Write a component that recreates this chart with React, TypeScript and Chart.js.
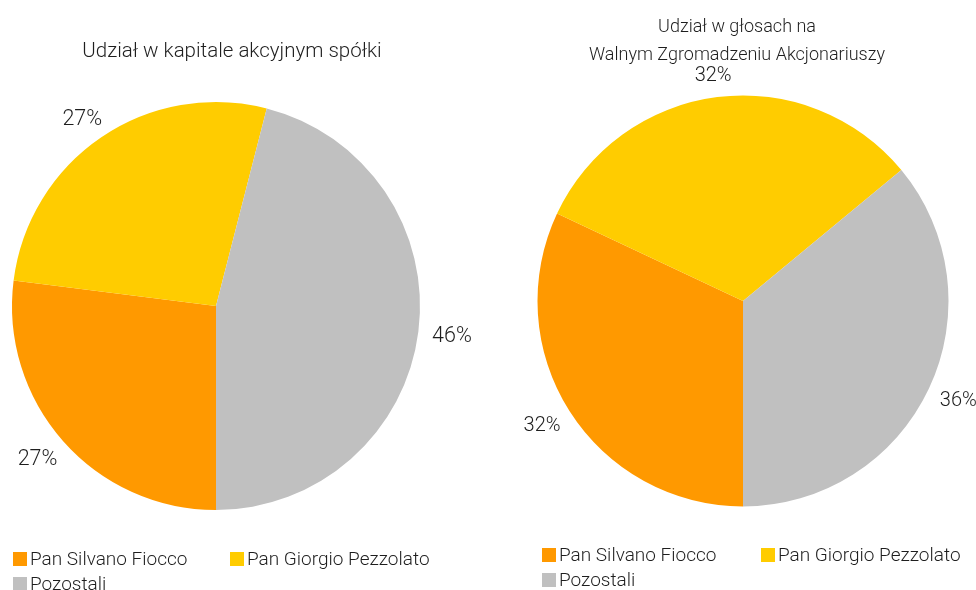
import { useEffect, useRef } from "react";
import { Chart, registerables } from "chart.js";

Chart.register(...registerables);

// Shareholders and their colours
const seriesNames = ["Pan Silvano Fiocco", "Pan Giorgio Pezzolato", "Pozostali"];
const seriesColors = ["#FF9900", "#FFCC00", "#C0C0C0"];

// Percent shares
const capitalShare = [27, 27, 46];
const votingShare = [32, 32, 36];

// Titles
const capitalTitle = ["Udział w kapitale akcyjnym spółki"];
const votingTitle = ["Udział w głosach na", "Walnym Zgromadzeniu Akcjonariuszy"];

const FAMILY = 'Roboto, "Liberation Sans", Arial, sans-serif';
const TEXT_COLOR = "#1e1e1e";
const W = 976;
const H = 590;

type Decor = {
  titleX: number;
  titleSize: number;
  labelSize: number;
  titleBaselines: number[];
  titleLines: string[];
  legendRows: { x: number; y: number; idx: number }[];
};

// Percentage labels placed just outside each slice
const outsideLabels = {
  id: "outsideLabels",
  afterDatasetsDraw(chart: any) {
    const ctx = chart.ctx;
    const meta = chart.getDatasetMeta(0);
    const values = chart.data.datasets[0].data as number[];
    const size = chart.options.plugins.decor.labelSize as number;
    ctx.save();
    ctx.font = `300 ${size}px ${FAMILY}`;
    ctx.fillStyle = TEXT_COLOR;
    ctx.textAlign = "center";
    ctx.textBaseline = "alphabetic";
    meta.data.forEach((arc: any, i: number) => {
      const p = arc.getProps(["x", "y", "startAngle", "endAngle", "outerRadius"], true);
      const mid = (p.startAngle + p.endAngle) / 2;
      const ux = Math.cos(mid);
      const uy = Math.sin(mid);
      const text = `${values[i]}%`;
      const w = ctx.measureText(text).width;
      const gap = 14;
      const cx = p.x + (p.outerRadius + gap) * ux + (w / 2) * ux;
      const cy = p.y + (p.outerRadius + gap) * uy + 10 * uy;
      ctx.fillText(text, cx, cy + size * 0.36);
    });
    ctx.restore();
  },
};

// Title lines and legend entries
const decorPlugin = {
  id: "decor",
  afterDraw(chart: any, _args: any, opts: Decor) {
    const ctx = chart.ctx;
    ctx.save();
    ctx.fillStyle = TEXT_COLOR;
    ctx.font = `300 ${opts.titleSize}px ${FAMILY}`;
    ctx.textAlign = "center";
    ctx.textBaseline = "alphabetic";
    opts.titleLines.forEach((line, i) => {
      ctx.fillText(line, opts.titleX, opts.titleBaselines[i]);
    });
    ctx.textAlign = "left";
    ctx.font = `300 19px ${FAMILY}`;
    opts.legendRows.forEach((item) => {
      ctx.fillStyle = seriesColors[item.idx];
      ctx.fillRect(item.x, item.y - 12, 14, 14);
      ctx.fillStyle = TEXT_COLOR;
      ctx.fillText(seriesNames[item.idx], item.x + 17, item.y + 1);
    });
    ctx.restore();
  },
};

function PieCanvas(props: {
  values: number[];
  padding: { left: number; right: number; top: number; bottom: number };
  decor: Decor;
}) {
  const ref = useRef<HTMLCanvasElement | null>(null);
  useEffect(() => {
    if (!ref.current) return;
    const chart = new Chart(ref.current, {
      type: "pie",
      data: {
        labels: seriesNames,
        datasets: [
          {
            data: props.values,
            backgroundColor: seriesColors,
            borderWidth: 0,
            hoverOffset: 0,
          },
        ],
      },
      options: {
        animation: false,
        responsive: false,
        events: [],
        rotation: 180,
        layout: { padding: props.padding },
        plugins: {
          legend: { display: false },
          title: { display: false },
          tooltip: { enabled: false },
          decor: props.decor,
        } as any,
      },
      plugins: [outsideLabels, decorPlugin],
    });
    return () => chart.destroy();
  }, []);
  return (
    <canvas
      ref={ref}
      width={W}
      height={H}
      style={{ position: "absolute", left: 0, top: 0, width: W, height: H }}
    />
  );
}

export default function App() {
  return (
    <div
      style={{
        position: "fixed",
        left: 0,
        top: 0,
        width: W,
        height: H,
        background: "#ffffff",
        overflow: "hidden",
      }}
    >
      <PieCanvas
        values={capitalShare}
        padding={{ left: 12, right: W - 420, top: 102, bottom: H - 510 }}
        decor={{
          titleX: 232,
          titleSize: 20.5,
          labelSize: 21.5,
          titleBaselines: [57],
          titleLines: capitalTitle,
          legendRows: [
            { x: 13, y: 564, idx: 0 },
            { x: 230, y: 564, idx: 1 },
            { x: 13, y: 589, idx: 2 },
          ],
        }}
      />
      <PieCanvas
        values={votingShare}
        padding={{ left: 537.5, right: W - 948.5, top: 95.5, bottom: H - 506.5 }}
        decor={{
          titleX: 737,
          titleSize: 18,
          labelSize: 20,
          titleBaselines: [32, 60],
          titleLines: votingTitle,
          legendRows: [
            { x: 542, y: 560, idx: 0 },
            { x: 761, y: 560, idx: 1 },
            { x: 542, y: 585, idx: 2 },
          ],
        }}
      />
    </div>
  );
}
